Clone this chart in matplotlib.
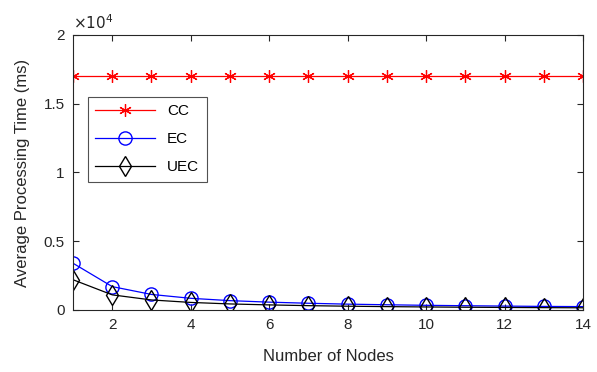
import matplotlib.pyplot as plt
import matplotlib.ticker as mticker

plt.rcParams['font.family'] = ['Liberation Sans', 'DejaVu Sans']

nodes = list(range(1, 15))
cc = [17000] * 14
ec = [3400, 1700, 1130, 850, 680, 570, 490, 425, 380, 340, 310, 285, 260, 245]
uec = [2200, 1100, 730, 550, 440, 370, 315, 275, 245, 220, 200, 185, 170, 160]

fig = plt.figure(figsize=(5.97, 3.72), dpi=100)
ax = fig.add_axes([0.1223, 0.1667, 0.8542, 0.7393])

axc = '0.15'
# MATLAB-style asterisk marker
ax.plot(nodes, cc, color='red', marker=(6, 2, 0), markersize=9, markeredgewidth=0.9,
        linewidth=0.9, label='CC')
ax.plot(nodes, ec, color='blue', marker='o', markersize=9.5, markerfacecolor='none',
        linewidth=0.9, label='EC')
ax.plot(nodes, uec, color='black', marker='d', markersize=10, markerfacecolor='none',
        linewidth=0.9, label='UEC')

ax.set_xlim(1, 14)
ax.set_ylim(0, 20000)
ax.set_xticks([2, 4, 6, 8, 10, 12, 14])
ax.set_yticks([0, 5000, 10000, 15000, 20000])
ax.yaxis.set_major_formatter(mticker.FuncFormatter(
    lambda v, p: '0' if v == 0 else ('%g' % (v / 1e4))))
ax.text(0.0, 1.01, r'$\times10^{4}$', transform=ax.transAxes, fontsize=11,
        color=axc, ha='left', va='bottom')

ax.tick_params(direction='in', length=4, labelsize=11, colors=axc,
               top=True, right=True, pad=6)
for s in ax.spines.values():
    s.set_color(axc)
    s.set_linewidth(0.8)

ax.set_xlabel('Number of Nodes', fontsize=12, color=axc, labelpad=12)
ax.set_ylabel('Average Processing Time (ms)', fontsize=12, color=axc, labelpad=10)

leg = ax.legend(loc='upper left', bbox_to_anchor=(0.029, 0.775), fontsize=11,
                fancybox=False, edgecolor=axc, handlelength=3.9,
                borderpad=0.5, labelspacing=0.9, borderaxespad=0)
leg.get_frame().set_linewidth(0.8)

fig.savefig('out.png', dpi=100)
